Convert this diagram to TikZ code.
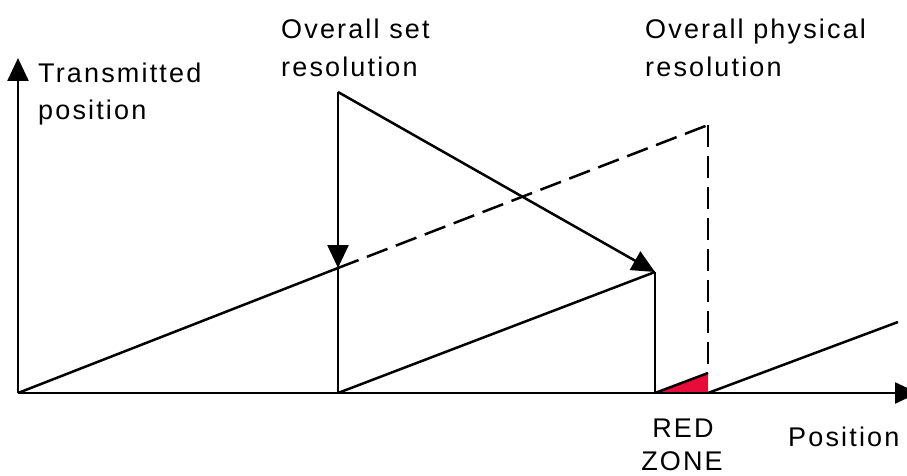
\documentclass[tikz,border=0pt]{standalone}
\usepackage{fontspec}
\setmainfont[LetterSpace=8]{Liberation Sans}
\usetikzlibrary{arrows.meta}
\definecolor{zonered}{RGB}{232,12,58}
\begin{document}
\begin{tikzpicture}[x=1pt,y=-1pt,
  line/.style={line width=2.5pt},
  dashline/.style={line width=2.5pt,dash pattern=on 22pt off 9pt},
  arrowtip/.style={-{Triangle[length=23pt,width=21pt]}},
  lbl/.style={inner sep=0pt,font=\fontsize{27}{36}\selectfont},
]
\useasboundingbox (0,0) rectangle (907,476);
% key points
\coordinate (O) at (18,393);
\coordinate (Ytop) at (18,58);
\coordinate (Xend) at (918,393);
\coordinate (A) at (338,268);
\coordinate (Atop) at (338,92);
\coordinate (Abot) at (338,393);
\coordinate (B) at (708,125);
\coordinate (C) at (655,272);
\coordinate (Cbot) at (655,393);
\coordinate (D) at (708,373);
\coordinate (Dbot) at (708,393);
\coordinate (E) at (898,322);
% red zone
\fill[zonered] (Cbot) -- (D) -- (Dbot) -- cycle;
% axes
\draw[line,arrowtip] (O) -- (Ytop);
\draw[line,arrowtip] (O) -- (Xend);
% ramps
\draw[line] (O) -- (A);
\draw[dashline] (A) -- (B);
\draw[dashline] (B) -- (D);
\draw[line] (Abot) -- (C);
\draw[line] (Cbot) -- (D);
\draw[line] (Dbot) -- (E);
% verticals
\draw[line,arrowtip] (Atop) -- (A);
\draw[line] (A) -- (Abot);
\draw[line,arrowtip] (Atop) -- (C);
\draw[line] (C) -- (Cbot);
% labels
\node[lbl,anchor=base west] (t1) at (38,83) {Transmitted};
\node[lbl,anchor=base west] (t2) at (38,120) {position};
\node[lbl,anchor=base west] (s1) at (281,39) {Overall set};
\node[lbl,anchor=base west] (s2) at (281,77) {resolution};
\node[lbl,anchor=base west] (p1) at (645,39) {Overall physical};
\node[lbl,anchor=base west] (p2) at (645,77) {resolution};
\node[lbl,anchor=base] (r1) at (683,437) {RED};
\node[lbl,anchor=base] (r2) at (682,470) {ZONE};
\node[lbl,anchor=base west] (x1) at (788,446) {Position};
\end{tikzpicture}
\end{document}
